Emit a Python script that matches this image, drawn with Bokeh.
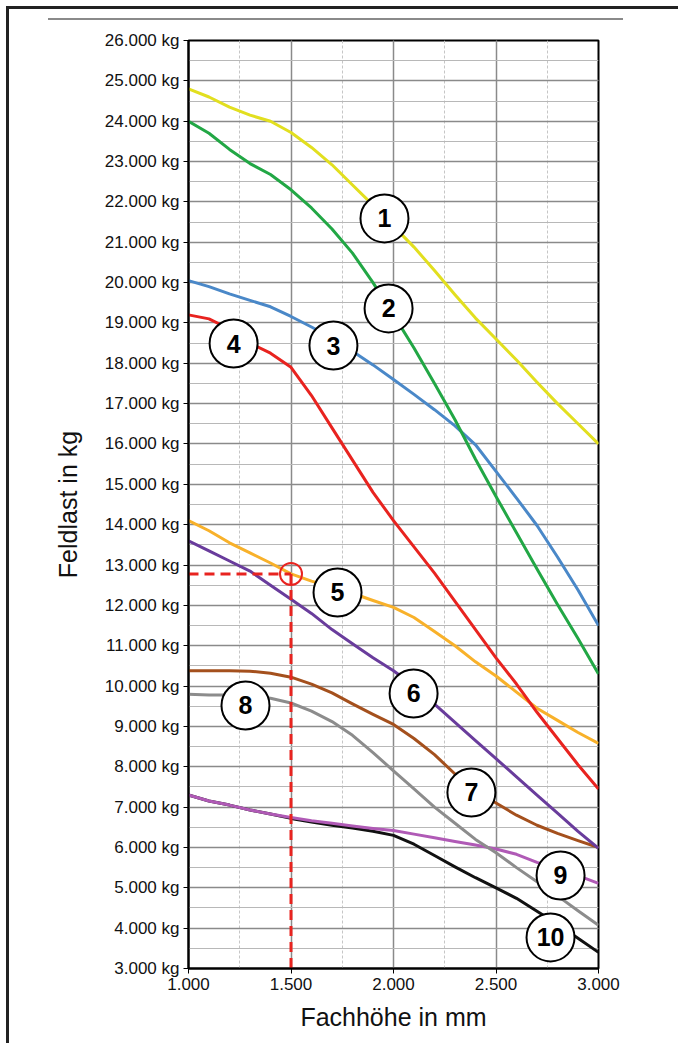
from bokeh.plotting import figure
from bokeh.models import Range1d, SingleIntervalTicker, ColumnDataSource
from bokeh.core.properties import value
from bokeh.embed import file_html
from bokeh.resources import INLINE

# ---------------- data ----------------
fachhoehe = [1000, 1100, 1200, 1300, 1400, 1500, 1600, 1700, 1800, 1900, 2000,
             2100, 2200, 2300, 2400, 2500, 2600, 2700, 2800, 2900, 3000]

kurve_1 = [24800, 24600, 24350, 24150, 24000, 23720, 23350, 22920, 22420, 21920, 21400,
           20880, 20300, 19700, 19120, 18600, 18080, 17530, 17000, 16500, 16000]
kurve_2 = [24000, 23700, 23300, 22950, 22680, 22300, 21850, 21330, 20730, 20000, 19200,
           18380, 17500, 16600, 15620, 14700, 13800, 12900, 12020, 11180, 10300]
kurve_3 = [20050, 19900, 19720, 19560, 19400, 19160, 18900, 18620, 18300, 17960, 17600,
           17230, 16850, 16450, 15980, 15320, 14660, 13980, 13200, 12380, 11500]
kurve_4 = [19200, 19100, 18850, 18500, 18250, 17900, 17200, 16400, 15600, 14800, 14100,
           13450, 12800, 12100, 11400, 10700, 10050, 9350, 8700, 8050, 7450]
kurve_5 = [14100, 13850, 13550, 13300, 13050, 12780, 12600, 12450, 12300, 12120, 11950,
           11700, 11350, 11000, 10600, 10250, 9850, 9450, 9150, 8850, 8580]
kurve_6 = [13600, 13350, 13100, 12850, 12500, 12150, 11800, 11400, 11050, 10700, 10380,
           10000, 9550, 9100, 8650, 8200, 7750, 7300, 6850, 6400, 5980]
kurve_7 = [10380, 10380, 10380, 10370, 10320, 10220, 10050, 9830, 9560, 9300, 9050,
           8700, 8300, 7820, 7400, 7100, 6800, 6550, 6350, 6170, 6000]
kurve_8 = [9800, 9780, 9780, 9760, 9700, 9580, 9380, 9120, 8780, 8350, 7900,
           7450, 7000, 6600, 6200, 5870, 5500, 5150, 4800, 4430, 4070]
kurve_9 = [7300, 7150, 7050, 6930, 6830, 6740, 6660, 6600, 6530, 6470, 6420,
           6330, 6240, 6150, 6060, 5960, 5830, 5630, 5450, 5300, 5110]
kurve_10 = [7300, 7150, 7050, 6930, 6830, 6720, 6630, 6550, 6480, 6400, 6300,
            6080, 5800, 5520, 5250, 5000, 4740, 4420, 4100, 3750, 3400]

kurven = [kurve_1, kurve_2, kurve_3, kurve_4, kurve_5,
          kurve_6, kurve_7, kurve_8, kurve_9, kurve_10]
kurven_namen = ["1", "2", "3", "4", "5", "6", "7", "8", "9", "10"]
farben = ["#e2df1f", "#22a745", "#4a88c8", "#e8231f", "#f8b12a",
          "#693c9c", "#a4501d", "#8c8c8c", "#b05ab6", "#111111"]

# label anchor positions (mm, kg)
label_mm = [1956, 1976, 1707, 1220, 1727, 2098, 2380, 1278, 2815, 2766]
label_kg = [21590, 19360, 18440, 18490, 12320, 9816, 7363, 9519, 5306, 3770]

# reading example
ablesung_mm = 1500
ablesung_kg = 12780

y_ticks = list(range(3000, 26001, 1000))
x_ticks = [1000, 1500, 2000, 2500, 3000]

FONT = "Liberation Sans"

# ---------------- figure ----------------
p = figure(width=678, height=1043, output_backend="svg", toolbar_location=None,
           x_range=Range1d(1000, 3000), y_range=Range1d(3000, 26000),
           min_border_left=188, min_border_right=80, min_border_top=40, min_border_bottom=75)
p.background_fill_color = "white"
p.border_fill_alpha = 0
p.outline_line_color = "black"
p.outline_line_width = 2

# page frame (left + top) and thin grey rule above the chart, drawn as CSS backgrounds
p.styles = {
    "background-color": "white",
    "background-image": ("linear-gradient(#222222, #222222), "
                         "linear-gradient(#222222, #222222), "
                         "linear-gradient(#8a8a8a, #8a8a8a)"),
    "background-size": "3px 1037px, 672px 3px, 575px 2px",
    "background-position": "6px 6px, 6px 6px, 48px 18px",
    "background-repeat": "no-repeat",
}

p.xaxis.ticker = SingleIntervalTicker(interval=500, num_minor_ticks=2)
p.yaxis.ticker = SingleIntervalTicker(interval=1000, num_minor_ticks=2)
p.xaxis.major_label_overrides = {t: f"{t:,}".replace(",", ".") for t in x_ticks}
p.yaxis.major_label_overrides = {t: f"{t:,}".replace(",", ".") + " kg" for t in y_ticks}

for ax in (p.xaxis, p.yaxis):
    ax.axis_line_color = "black"
    ax.axis_line_width = 2
    ax.major_tick_line_color = "black"
    ax.major_tick_line_width = 1
    ax.major_tick_in = 0
    ax.major_tick_out = 5
    ax.minor_tick_line_color = None
    ax.major_label_text_font = FONT
    ax.major_label_text_font_size = "17px"
    ax.major_label_text_color = "#111111"
    ax.axis_label_text_font = FONT
    ax.axis_label_text_font_size = "25px"
    ax.axis_label_text_font_style = "normal"
    ax.axis_label_text_color = "#111111"

p.xaxis.axis_label = "Fachhöhe in mm"
p.yaxis.axis_label = "Feldlast in kg"
p.xaxis.major_label_standoff = 4
p.xaxis.axis_label_standoff = 10
p.yaxis.major_label_standoff = 4
p.yaxis.axis_label_standoff = 20

p.xgrid.grid_line_color = "#8a8a8a"
p.xgrid.grid_line_width = 1.5
p.xgrid.minor_grid_line_color = "#c6c6c6"
p.xgrid.minor_grid_line_dash = "3 2"
p.ygrid.grid_line_color = "#8a8a8a"
p.ygrid.grid_line_width = 1.5
p.ygrid.minor_grid_line_color = "#b8b8b8"
p.ygrid.minor_grid_line_width = 1

# curves (draw 10 first, 1 last)
for werte, farbe in reversed(list(zip(kurven, farben))):
    p.line(fachhoehe, werte, line_color=farbe, line_width=3, line_join="round")

# reading example: dashed red lines + circle
p.line([1000, ablesung_mm], [ablesung_kg, ablesung_kg], line_color="#e8231f",
       line_width=3, line_dash="10 6")
p.line([ablesung_mm, ablesung_mm], [ablesung_kg, 3000], line_color="#e8231f",
       line_width=3, line_dash="10 6")
p.scatter([ablesung_mm], [ablesung_kg], marker="circle", size=22, fill_color=None,
          line_color="#e8231f", line_width=2)

# numbered circles
src = ColumnDataSource(dict(x=label_mm, y=label_kg, t=kurven_namen))
p.scatter("x", "y", source=src, marker="circle", size=48, fill_color="white",
          line_color="black", line_width=2)
p.text("x", "y", text="t", source=src, text_align="center", text_baseline="middle",
       text_font=value(FONT), text_font_size="25px", text_font_style="bold",
       text_color="black")

open("out.html", "w").write(file_html(p, INLINE))
